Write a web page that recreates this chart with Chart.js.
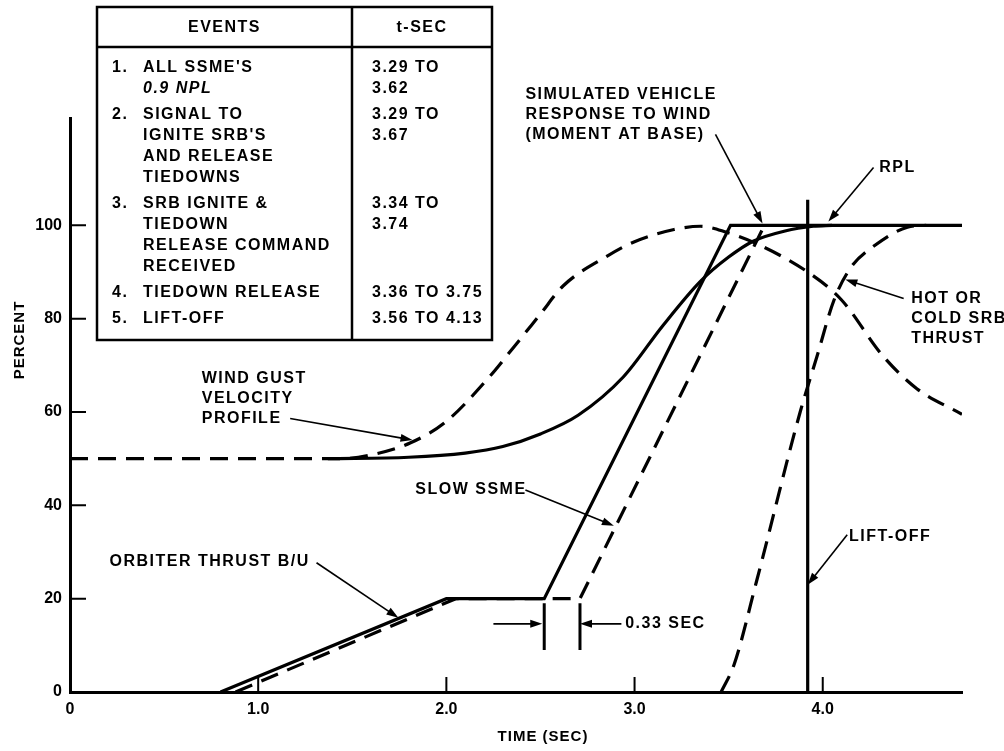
<!doctype html>
<html>
<head>
	<title>SSME / SRB Ignition Sequence</title>
	<script src="https://cdn.jsdelivr.net/npm/chart.js@4.4.1/dist/chart.umd.min.js"></script>
	<style>
		html, body { margin: 0; padding: 0; background: #fff; }
		canvas { display: block; }
	</style>
</head>
<body>
	<canvas id="canvas" width="1004" height="751"></canvas>
	<script>
		// axis ticks
		const xTicks = [0, 1, 2, 3, 4];
		const yTicks = [0, 20, 40, 60, 80, 100];

		// orbiter thrust B/U (solid) then RPL
		const thrustT = [0.80, 2.00, 2.52, 3.51, 4.74];
		const thrustV = [0, 20, 20, 100, 100];
		// slow SSME (dashed)
		const slowT = [0.88, 2.05, 2.71, 3.69];
		const slowV = [0, 20, 20, 100];
		// wind gust velocity profile (dashed)
		const windT = [0, 1.45, 1.6, 1.81, 2.0, 2.23, 2.36, 2.5, 2.62, 2.85, 3.0, 3.21, 3.35, 3.49, 3.63, 3.92, 4.10, 4.32, 4.5, 4.74];
		const windV = [50, 50, 50.8, 53.4, 58, 67.6, 74, 81, 87, 93.3, 96.5, 99.1, 99.8, 98.5, 96.4, 90, 84, 72, 65, 59.5];
		// simulated vehicle response (solid)
		const respT = [1.37, 1.8, 2.1, 2.3, 2.5, 2.7, 2.94, 3.15, 3.35, 3.5, 3.63, 3.8, 3.95, 4.05];
		const respV = [50, 50.3, 51.2, 52.6, 55.3, 59.3, 67.5, 78.5, 88, 93.2, 96.6, 98.8, 99.8, 100];
		// hot or cold SRB thrust (dashed)
		const srbT = [3.46, 3.53, 3.65, 3.88, 3.97, 4.06, 4.15, 4.27, 4.45, 4.55];
		const srbV = [0, 6, 24, 60, 72, 84, 91, 95.5, 99.6, 100];
		// lift-off
		const liftT = [3.92, 3.92];
		const liftV = [0, 105.5];

		// events table
		const eventRows = [
			['ALL SSME\'S', '0.9 NPL'],
			['SIGNAL TO', 'IGNITE SRB\'S', 'AND RELEASE', 'TIEDOWNS'],
			['SRB IGNITE &', 'TIEDOWN', 'RELEASE COMMAND', 'RECEIVED'],
			['TIEDOWN RELEASE'],
			['LIFT-OFF']
		];
		const eventTimes = [
			['3.29 TO', '3.62'],
			['3.29 TO', '3.67'],
			['3.34 TO', '3.74'],
			['3.36 TO 3.75'],
			['3.56 TO 4.13']
		];

		const FONT = '"Liberation Sans", Arial, Helvetica, sans-serif';
		const TXT = 'bold 16px ' + FONT;
		const dash = [18, 10];

		const pts = (ts, vs) => ts.map((t, i) => ({ x: t, y: vs[i] }));
		const line = (ts, vs, dashed, curve) => ({
			data: pts(ts, vs),
			showLine: true,
			borderColor: '#000',
			borderWidth: 3.2,
			borderDash: dashed ? dash : [],
			pointRadius: 0,
			tension: 0,
			cubicInterpolationMode: curve ? 'monotone' : 'default'
		});

		// labels with leader arrows, placed in data units
		const notes = [
			{ lines: ['WIND GUST', 'VELOCITY', 'PROFILE'], t: 0.70, v: 67.1, from: [1.17, 58.6], to: [1.82, 54] },
			{ lines: ['SIMULATED VEHICLE', 'RESPONSE TO WIND', '(MOMENT AT BASE)'], t: 2.42, v: 128.1, from: [3.43, 119.5], to: [3.68, 100.4] },
			{ lines: ['RPL'], t: 4.30, v: 112.4, from: [4.27, 112.4], to: [4.03, 100.8] },
			{ lines: ['HOT OR', 'COLD SRB', 'THRUST'], t: 4.47, v: 84.3, from: [4.43, 84.3], to: [4.12, 88.4] },
			{ lines: ['SLOW SSME'], t: 1.835, v: 43.3, from: [2.42, 43.3], to: [2.89, 35.6] },
			{ lines: ['ORBITER THRUST B/U'], t: 0.21, v: 27.9, from: [1.31, 27.7], to: [1.745, 15.9] },
			{ lines: ['LIFT-OFF'], t: 4.14, v: 33.3, from: [4.13, 33.7], to: [3.92, 23] },
			{ lines: ['0.33 SEC'], t: 2.95, v: 14.6, from: [2.93, 14.6], to: [2.71, 14.6] }
		];

		function arrow(ctx, x1, y1, x2, y2) {
			const a = Math.atan2(y2 - y1, x2 - x1);
			ctx.beginPath();
			ctx.moveTo(x1, y1);
			ctx.lineTo(x2 - 8 * Math.cos(a), y2 - 8 * Math.sin(a));
			ctx.stroke();
			ctx.beginPath();
			ctx.moveTo(x2, y2);
			ctx.lineTo(x2 - 12 * Math.cos(a) + 4 * Math.sin(a), y2 - 12 * Math.sin(a) - 4 * Math.cos(a));
			ctx.lineTo(x2 - 12 * Math.cos(a) - 4 * Math.sin(a), y2 - 12 * Math.sin(a) + 4 * Math.cos(a));
			ctx.closePath();
			ctx.fill();
		}

		const sketch = {
			id: 'sketch',
			afterDraw(chart) {
				const ctx = chart.ctx;
				const xs = chart.scales.x, ys = chart.scales.y;
				const X = t => xs.getPixelForValue(t);
				const Y = v => ys.getPixelForValue(v);
				const area = chart.chartArea;
				ctx.save();
				ctx.strokeStyle = '#000';
				ctx.fillStyle = '#000';

				// inward tick marks
				ctx.lineWidth = 2;
				ctx.beginPath();
				xTicks.slice(1).forEach(t => { ctx.moveTo(X(t), area.bottom); ctx.lineTo(X(t), area.bottom - 15); });
				yTicks.slice(1).forEach(v => { ctx.moveTo(area.left, Y(v)); ctx.lineTo(area.left + 16, Y(v)); });
				ctx.stroke();

				// axis titles
				ctx.font = 'bold 15px ' + FONT;
				ctx.letterSpacing = '1px';
				ctx.textAlign = 'center';
				ctx.textBaseline = 'middle';
				ctx.fillText('TIME (SEC)', 543, 737);
				ctx.save();
				ctx.translate(20, 340);
				ctx.rotate(-Math.PI / 2);
				ctx.fillText('PERCENT', 0, 0);
				ctx.restore();

				// 0.33 sec markers
				ctx.lineWidth = 3;
				ctx.beginPath();
				[2.52, 2.71].forEach(t => { ctx.moveTo(X(t), Y(19)); ctx.lineTo(X(t), Y(9)); });
				ctx.stroke();
				ctx.lineWidth = 1.6;
				arrow(ctx, X(2.25), Y(14.6), X(2.52) - 2, Y(14.6));

				// notes
				ctx.font = TXT;
				ctx.letterSpacing = '1.5px';
				ctx.textAlign = 'left';
				notes.forEach(n => {
					n.lines.forEach((s, i) => ctx.fillText(s, X(n.t), Y(n.v) + i * 20));
					ctx.lineWidth = 1.6;
					arrow(ctx, X(n.from[0]), Y(n.from[1]), X(n.to[0]), Y(n.to[1]));
				});

				// table
				const tl = 97, tr = 492, tt = 7, tb = 340, col = 352, head = 47;
				ctx.lineWidth = 2.5;
				ctx.fillStyle = '#fff';
				ctx.fillRect(tl, tt, tr - tl, tb - tt);
				ctx.fillStyle = '#000';
				ctx.strokeRect(tl, tt, tr - tl, tb - tt);
				ctx.beginPath();
				ctx.moveTo(col, tt); ctx.lineTo(col, tb);
				ctx.moveTo(tl, head); ctx.lineTo(tr, head);
				ctx.stroke();
				ctx.textAlign = 'center';
				ctx.fillText('EVENTS', (tl + col) / 2, 28);
				ctx.fillText('t-SEC', (col + tr) / 2, 28);
				ctx.textAlign = 'left';
				let y = 68;
				eventRows.forEach((rows, i) => {
					ctx.font = TXT;
					ctx.fillText((i + 1) + '.', 112, y);
					rows.forEach((s, j) => {
						ctx.font = (s === '0.9 NPL' ? 'italic ' : '') + TXT;
						ctx.fillText(s, 143, y + j * 21);
						if (eventTimes[i][j]) {
							ctx.font = TXT;
							ctx.fillText(eventTimes[i][j], 372, y + j * 21);
						}
					});
					y += rows.length * 21 + 5;
				});
				ctx.restore();
			}
		};

		window.onload = function() {
			const ctx = document.getElementById('canvas').getContext('2d');
			window.myChart = new Chart(ctx, {
				type: 'scatter',
				data: {
					datasets: [
						line(thrustT, thrustV, false, false),
						line(slowT, slowV, true, false),
						line(windT, windV, true, true),
						line(respT, respV, false, true),
						line(srbT, srbV, true, true),
						line(liftT, liftV, false, false)
					]
				},
				options: {
					responsive: false,
					animation: false,
					layout: { padding: { top: 118, right: 42, left: 0, bottom: 0 } },
					plugins: { legend: { display: false }, tooltip: { enabled: false } },
					scales: {
						x: {
							type: 'linear', min: 0, max: 4.74,
							afterBuildTicks: s => { s.ticks = xTicks.map(v => ({ value: v })); },
							afterFit: s => { s.height = 59; },
							grid: { display: false, drawTicks: false },
							border: { display: true, color: '#000', width: 3 },
							ticks: {
								color: '#000', padding: 8, maxRotation: 0,
								font: { family: FONT, size: 16, weight: 'bold' },
								callback: v => v === 0 ? '0' : v.toFixed(1)
							}
						},
						y: {
							type: 'linear', min: 0, max: 123,
							afterBuildTicks: s => { s.ticks = yTicks.map(v => ({ value: v })); },
							afterFit: s => { s.width = 70; },
							grid: { display: false, drawTicks: false },
							border: { display: true, color: '#000', width: 3 },
							ticks: {
								color: '#000', padding: 8,
								font: { family: FONT, size: 16, weight: 'bold' },
								callback: v => String(v)
							}
						}
					}
				},
				plugins: [sketch]
			});
		};
	</script>
</body>
</html>
